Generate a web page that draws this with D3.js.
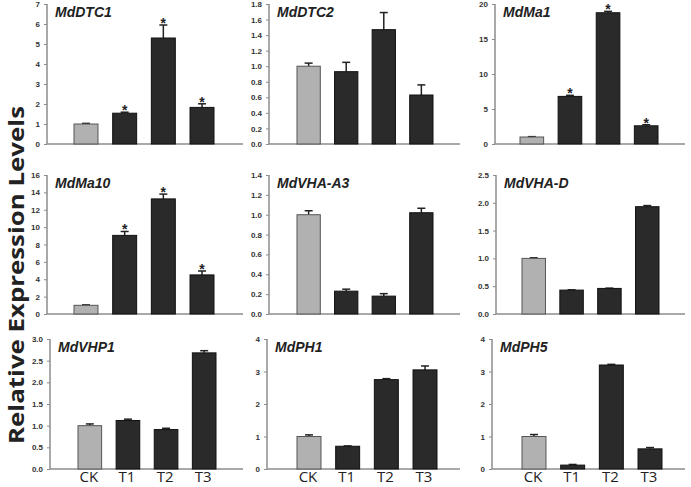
<!DOCTYPE html>
<html><head><meta charset="utf-8">
<script src="https://cdn.jsdelivr.net/npm/d3@7"></script>
<style>html,body{margin:0;padding:0;background:#fff;}svg{display:block;}</style>
</head><body>
<script>
const categories = ["CK", "T1", "T2", "T3"];
const genes = ["MdDTC1", "MdDTC2", "MdMa1", "MdMa10", "MdVHA-A3", "MdVHA-D", "MdVHP1", "MdPH1", "MdPH5"];
const means = [
  [1.0, 1.54, 5.3, 1.83],
  [1.0, 0.93, 1.47, 0.63],
  [1.0, 6.8, 18.75, 2.6],
  [1.0, 9.05, 13.25, 4.5],
  [1.0, 0.23, 0.18, 1.02],
  [1.0, 0.43, 0.46, 1.93],
  [1.0, 1.12, 0.91, 2.68],
  [1.0, 0.70, 2.75, 3.05],
  [1.0, 0.12, 3.2, 0.62]
];
const errors = [
  [0.03, 0.05, 0.65, 0.18],
  [0.04, 0.12, 0.22, 0.13],
  [0.05, 0.15, 0.2, 0.15],
  [0.05, 0.45, 0.55, 0.45],
  [0.04, 0.02, 0.025, 0.045],
  [0.01, 0.005, 0.005, 0.02],
  [0.04, 0.03, 0.03, 0.05],
  [0.05, 0.01, 0.03, 0.12],
  [0.06, 0.02, 0.02, 0.04]
];
const significant = [
  [0, 1, 1, 1],
  [0, 0, 0, 0],
  [0, 1, 1, 1],
  [0, 1, 1, 1],
  [0, 0, 0, 0],
  [0, 0, 0, 0],
  [0, 0, 0, 0],
  [0, 0, 0, 0],
  [0, 0, 0, 0]
];
const yMax = [7, 1.8, 20, 16, 1.4, 2.5, 3, 4, 4];
const yStep = [1, 0.2, 5, 2, 0.2, 0.5, 0.5, 1, 1];
const yFormat = ["d", ".1f", "d", "d", ".1f", ".1f", ".1f", "d", "d"];
const yAxisTitle = "Relative Expression Levels";

// layout (pixel frame of each panel)
const rows = [{top: 4, bottom: 144}, {top: 175, bottom: 314}, {top: 339, bottom: 469}];
const cols = [
  [{axis: 47, b0: 74, b1: 214, end: 243}, {axis: 269, b0: 297, b1: 433, end: 460}, {axis: 495, b0: 520, b1: 658, end: 685}],
  [{axis: 47, b0: 74, b1: 214, end: 243}, {axis: 269, b0: 297, b1: 433, end: 460}, {axis: 496, b0: 522, b1: 659, end: 685}],
  [{axis: 50, b0: 78, b1: 216, end: 243}, {axis: 267, b0: 297, b1: 437, end: 460}, {axis: 492, b0: 522, b1: 662, end: 685}]
];

const W = 691, H = 487;
const svg = d3.select("body").append("svg").attr("width", W).attr("height", H);

genes.forEach((gene, i) => {
  const r = Math.floor(i / 3), c = i % 3;
  const R = rows[r], C = cols[r][c];
  const y = d3.scaleLinear().domain([0, yMax[i]]).range([R.bottom, R.top]);
  const x = d3.scaleBand().domain(categories).range([C.b0, C.b1]).paddingInner(0.38).paddingOuter(0);
  const g = svg.append("g");

  const ticks = d3.range(0, yMax[i] + yStep[i] / 2, yStep[i]);
  const yAxis = d3.axisLeft(y).tickValues(ticks).tickFormat(d3.format(yFormat[i])).tickSize(3).tickPadding(4);
  const ya = g.append("g").attr("transform", `translate(${C.axis},0)`).call(yAxis);
  ya.select(".domain").attr("stroke", "#8c8c8c").attr("stroke-width", 1.5).attr("d", `M0,${R.top}V${R.bottom}`);
  ya.selectAll(".tick line").attr("stroke", "#8c8c8c").attr("stroke-width", 1);
  ya.selectAll(".tick text").attr("fill", "#333").style("font-family", "Liberation Sans, Arial, sans-serif")
    .style("font-size", "8px").style("font-weight", "bold");

  // x axis line
  g.append("line").attr("x1", C.axis).attr("x2", C.end).attr("y1", y(0)).attr("y2", y(0))
    .attr("stroke", "#8c8c8c").attr("stroke-width", 1.5);

  const data = categories.map((k, j) => ({k, v: means[i][j], e: errors[i][j], s: significant[i][j]}));

  // error bars
  data.forEach(d => {
    const cx = x(d.k) + x.bandwidth() / 2;
    g.append("line").attr("x1", cx).attr("x2", cx).attr("y1", y(d.v)).attr("y2", y(d.v + d.e))
      .attr("stroke", "#222").attr("stroke-width", 1.5);
    g.append("line").attr("x1", cx - 4).attr("x2", cx + 4).attr("y1", y(d.v + d.e)).attr("y2", y(d.v + d.e))
      .attr("stroke", "#222").attr("stroke-width", 1.5);
  });

  g.selectAll("rect.bar").data(data).enter().append("rect").attr("class", "bar")
    .attr("x", d => x(d.k)).attr("width", x.bandwidth())
    .attr("y", d => y(d.v)).attr("height", d => y(0) - y(d.v))
    .attr("fill", d => d.k === "CK" ? "#b1b1b1" : "#2a2a2a")
    .attr("stroke", d => d.k === "CK" ? "#555" : "#111").attr("stroke-width", 1);

  g.selectAll("text.star").data(data.filter(d => d.s)).enter().append("text").attr("class", "star")
    .attr("x", d => x(d.k) + x.bandwidth() / 2).attr("y", d => y(d.v + d.e) + 3)
    .attr("text-anchor", "middle").attr("fill", "#222")
    .style("font-family", "Liberation Sans, Arial, sans-serif").style("font-size", "14px").style("font-weight", "bold")
    .text("*");

  g.append("text").attr("x", C.axis + 8).attr("y", R.top + 13)
    .attr("fill", "#222").style("font-family", "Liberation Sans, Arial, sans-serif")
    .style("font-size", "14px").style("font-weight", "bold").style("font-style", "italic").text(gene);

  if (r === 2) {
    g.selectAll("text.xl").data(categories).enter().append("text").attr("class", "xl")
      .attr("x", d => x(d) + x.bandwidth() / 2 - 1).attr("y", 482).attr("text-anchor", "middle")
      .attr("fill", "#222").style("font-family", "Open Sans, sans-serif").style("font-size", "15px").text(d => d);
  }
});

svg.append("text").attr("transform", "translate(24,275) rotate(-90)").attr("text-anchor", "middle")
  .attr("fill", "#222").style("font-family", "Open Sans, sans-serif").style("font-size", "22px").style("font-weight", "bold")
  .attr("textLength", 338).attr("lengthAdjust", "spacingAndGlyphs")
  .text(yAxisTitle);
</script>
</body></html>
